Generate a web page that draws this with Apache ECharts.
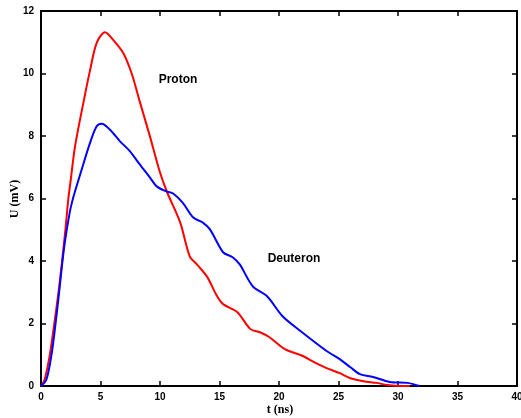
<!DOCTYPE html>
<html><head><meta charset="utf-8">
<script src="https://cdn.jsdelivr.net/npm/echarts@6/dist/echarts.min.js"></script>
<style>html,body{margin:0;padding:0;background:#fff}#c{width:521px;height:418px}</style>
</head><body><div id="c"></div>
<script>
const protonT = [0, 0.3, 0.73, 1.09, 1.43, 1.76, 2.05, 2.3, 2.5, 2.86, 3.56, 4.12, 4.68, 5.38, 6.08, 6.92, 7.62, 8.3, 9.16, 10.0, 10.6, 11.7, 12.5, 13.1, 13.95, 14.8, 15.3, 16.5, 17.6, 18.4, 19.2, 20.5, 22.0, 22.9, 24.0, 25.1, 26.0, 27.1, 28.2, 29.1, 30.4, 31.0];
const protonU = [0, 0.2, 0.97, 1.92, 2.88, 3.95, 5.0, 6.0, 6.6, 7.67, 9.06, 10.1, 10.98, 11.32, 11.07, 10.65, 10.0, 9.1, 7.98, 6.83, 6.2, 5.23, 4.15, 3.89, 3.5, 2.87, 2.62, 2.36, 1.82, 1.72, 1.56, 1.18, 0.96, 0.77, 0.57, 0.41, 0.25, 0.15, 0.1, 0.03, 0, 0];
const deuteronT = [0, 0.45, 0.87, 1.2, 1.49, 1.79, 2.04, 2.41, 2.62, 2.83, 3.42, 4.12, 4.68, 5.1, 5.8, 6.64, 7.48, 8.3, 9.16, 9.75, 10.6, 11.1, 11.9, 12.8, 13.6, 14.2, 15.3, 16.1, 16.7, 17.8, 19.0, 20.3, 21.8, 24.0, 25.1, 26.0, 26.8, 27.9, 29.3, 30.8, 31.8];
const deuteronU = [0, 0.2, 0.97, 1.92, 2.88, 3.95, 4.69, 5.55, 5.9, 6.19, 6.93, 7.78, 8.31, 8.39, 8.2, 7.83, 7.51, 7.09, 6.67, 6.38, 6.22, 6.16, 5.87, 5.39, 5.23, 5.01, 4.28, 4.12, 3.89, 3.19, 2.87, 2.23, 1.76, 1.12, 0.86, 0.6, 0.38, 0.29, 0.13, 0.1, 0];
const xTicks = [0, 5, 10, 15, 20, 25, 30, 35, 40];
const yTicks = [0, 2, 4, 6, 8, 10, 12];

const chart = echarts.init(document.getElementById('c'), null, {renderer: 'canvas'});
const tickFont = {fontFamily: 'Liberation Sans', fontWeight: 'bold', fontSize: 10, color: '#000'};
const axisLine = {show: true, onZero: false, lineStyle: {color: '#000', width: 2}};
const axisTick = {show: true, inside: true, length: 5, lineStyle: {color: '#000', width: 1.5}};
chart.setOption({
  animation: false,
  backgroundColor: '#fff',
  grid: {left: 41, right: 4, top: 11, bottom: 32, containLabel: false, outerBoundsMode: 'none'},
  xAxis: [{
    type: 'value', min: xTicks[0], max: xTicks[xTicks.length - 1], interval: 5, position: 'bottom',
    axisLine, axisTick, splitLine: {show: false},
    axisLabel: Object.assign({margin: 6, showMaxLabel: true}, tickFont)
  }, {
    type: 'value', min: 0, max: 40, interval: 5, position: 'top',
    axisLine, axisTick, splitLine: {show: false}, axisLabel: {show: false}
  }],
  yAxis: [{
    type: 'value', min: yTicks[0], max: yTicks[yTicks.length - 1], interval: 2, position: 'left',
    axisLine, axisTick, splitLine: {show: false},
    axisLabel: Object.assign({margin: 7}, tickFont)
  }, {
    type: 'value', min: 0, max: 12, interval: 2, position: 'right',
    axisLine, axisTick, splitLine: {show: false}, axisLabel: {show: false}
  }],
  series: [{
    name: 'Proton', type: 'line', smooth: 0.3, showSymbol: false,
    data: protonT.map((t, i) => [t, protonU[i]]),
    lineStyle: {color: '#ff0000', width: 2}, itemStyle: {color: '#ff0000'},
    z: 3
  }, {
    name: 'Deuteron', type: 'line', smooth: 0.3, showSymbol: false,
    data: deuteronT.map((t, i) => [t, deuteronU[i]]),
    lineStyle: {color: '#0000ff', width: 2}, itemStyle: {color: '#0000ff'},
    z: 4
  }],
  graphic: [
    {type: 'text', x: 178, y: 80, style: {text: 'Proton', font: 'bold 12px "Liberation Sans"', fill: '#000', textAlign: 'center', textVerticalAlign: 'middle'}},
    {type: 'text', x: 294, y: 259, style: {text: 'Deuteron', font: 'bold 12px "Liberation Sans"', fill: '#000', textAlign: 'center', textVerticalAlign: 'middle'}},
    {type: 'text', x: 280, y: 410, style: {text: 't (ns)', font: 'bold 12px "Liberation Serif"', fill: '#000', textAlign: 'center', textVerticalAlign: 'middle'}},
    {type: 'text', x: 15, y: 199, rotation: Math.PI / 2, style: {text: 'U (mV)', font: 'bold 12px "Liberation Serif"', fill: '#000', textAlign: 'center', textVerticalAlign: 'middle'}}
  ]
});
</script></body></html>
